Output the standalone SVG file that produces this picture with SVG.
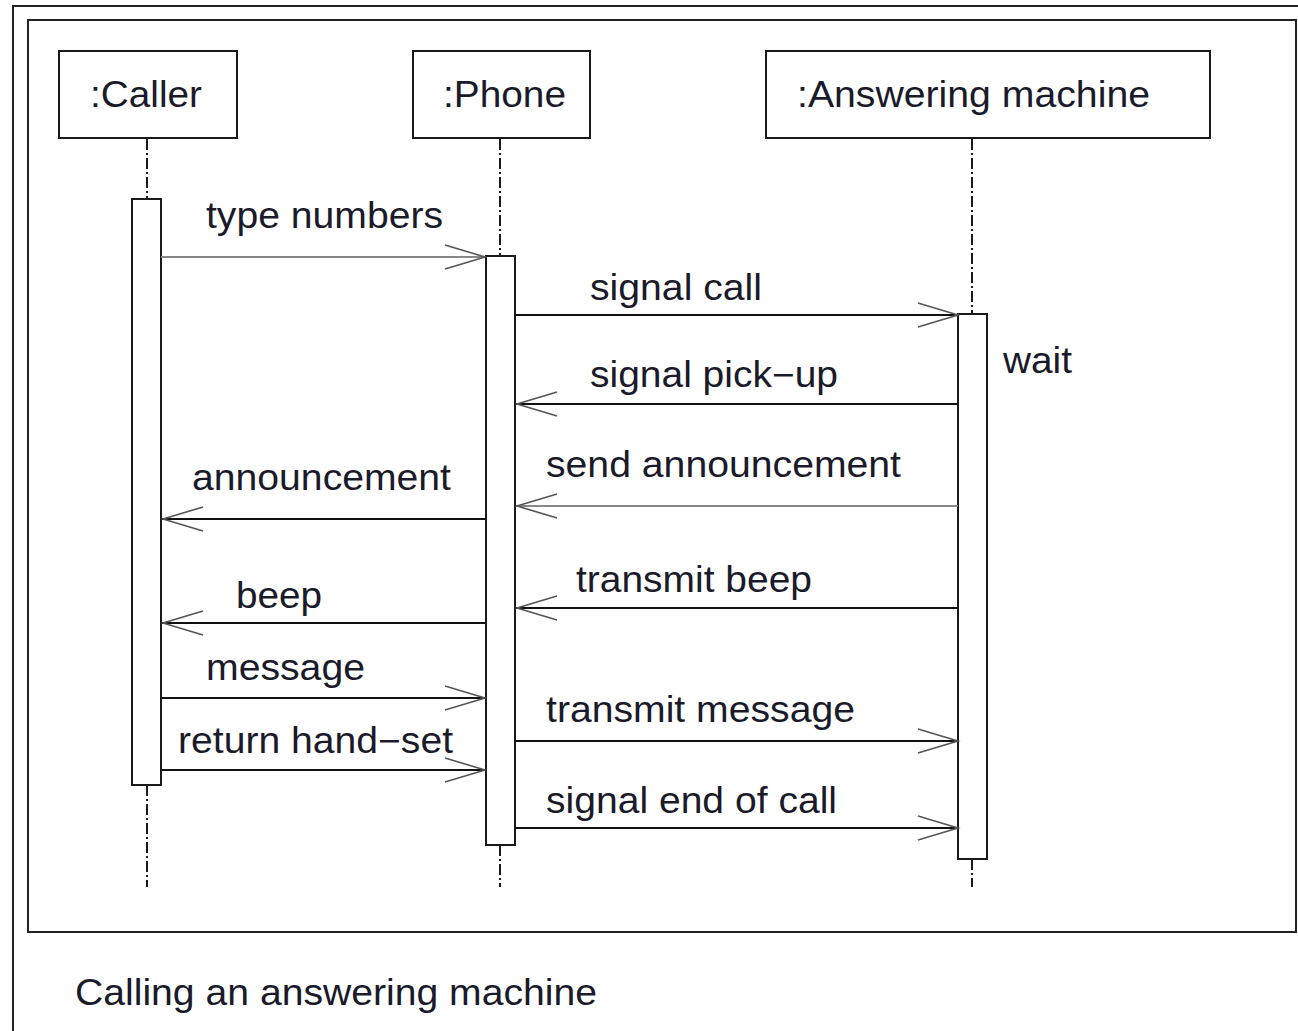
<svg xmlns="http://www.w3.org/2000/svg" width="1298" height="1031" viewBox="0 0 1298 1031">
<style>
.frame{fill:none;stroke:#222;stroke-width:2}
.box{fill:#fff;stroke:#1a1a1a;stroke-width:2}
.life{stroke:#1a1a1a;stroke-width:2;stroke-dasharray:11 3 2 3;fill:none}
.msg{stroke:#111;stroke-width:2;fill:none}
.msg.grey{stroke:#888}
.head{stroke:#555;stroke-width:1.6;fill:none}
text{font-family:"Liberation Sans",Arial,sans-serif;font-size:36px;fill:#1a1a2a}
</style>
<rect width="1298" height="1031" fill="#fff"/>
<path class="frame" d="M13,1031 V6 H1298"/>
<rect class="frame" x="28" y="20" width="1268" height="912"/>
<g id="lifelines">
<line class="life" x1="147" y1="139" x2="147" y2="199"/>
<line class="life" x1="147" y1="785" x2="147" y2="887"/>
<line class="life" x1="500" y1="139" x2="500" y2="256"/>
<line class="life" x1="500" y1="845" x2="500" y2="887"/>
<line class="life" x1="972" y1="139" x2="972" y2="314"/>
<line class="life" x1="972" y1="859" x2="972" y2="887"/>
</g>
<g id="caller">
<rect class="box" x="59" y="51" width="178" height="87"/>
<text x="90" y="107" textLength="112" lengthAdjust="spacingAndGlyphs">:Caller</text>
<rect class="box" x="132" y="199" width="29" height="586"/>
</g>
<g id="phone">
<rect class="box" x="413" y="51" width="177" height="87"/>
<text x="443" y="107" textLength="123" lengthAdjust="spacingAndGlyphs">:Phone</text>
<rect class="box" x="486" y="256" width="29" height="589"/>
</g>
<g id="answering-machine">
<rect class="box" x="766" y="51" width="444" height="87"/>
<text x="797" y="107" textLength="353" lengthAdjust="spacingAndGlyphs">:Answering machine</text>
<rect class="box" x="958" y="314" width="29" height="545"/>
<text x="1003" y="373" textLength="69" lengthAdjust="spacingAndGlyphs">wait</text>
</g>
<g id="connectors">
<line class="msg grey" x1="161" y1="257" x2="485" y2="257"/>
<path class="head" d="M445,245 L485,257 L445,269"/>
<line class="msg" x1="515" y1="315" x2="958" y2="315"/>
<path class="head" d="M918,303 L958,315 L918,327"/>
<line class="msg" x1="958" y1="404" x2="516" y2="404"/>
<path class="head" d="M557,392 L517,404 L557,416"/>
<line class="msg grey" x1="958" y1="506" x2="516" y2="506"/>
<path class="head" d="M557,494 L517,506 L557,518"/>
<line class="msg" x1="485" y1="519" x2="162" y2="519"/>
<path class="head" d="M203,507 L163,519 L203,531"/>
<line class="msg" x1="958" y1="608" x2="516" y2="608"/>
<path class="head" d="M557,596 L517,608 L557,620"/>
<line class="msg" x1="485" y1="623" x2="162" y2="623"/>
<path class="head" d="M203,611 L163,623 L203,635"/>
<line class="msg" x1="161" y1="698" x2="485" y2="698"/>
<path class="head" d="M445,686 L485,698 L445,710"/>
<line class="msg" x1="515" y1="741" x2="958" y2="741"/>
<path class="head" d="M918,729 L958,741 L918,753"/>
<line class="msg" x1="161" y1="770" x2="485" y2="770"/>
<path class="head" d="M445,758 L485,770 L445,782"/>
<line class="msg" x1="515" y1="828" x2="958" y2="828"/>
<path class="head" d="M918,816 L958,828 L918,840"/>
</g>
<g id="labels">
<text x="206" y="228" textLength="237" lengthAdjust="spacingAndGlyphs">type numbers</text>
<text x="590" y="300" textLength="172" lengthAdjust="spacingAndGlyphs">signal call</text>
<text x="590" y="387" textLength="248" lengthAdjust="spacingAndGlyphs">signal pick−up</text>
<text x="546" y="477" textLength="355" lengthAdjust="spacingAndGlyphs">send announcement</text>
<text x="192" y="490" textLength="259" lengthAdjust="spacingAndGlyphs">announcement</text>
<text x="576" y="592" textLength="236" lengthAdjust="spacingAndGlyphs">transmit beep</text>
<text x="236" y="608" textLength="86" lengthAdjust="spacingAndGlyphs">beep</text>
<text x="206" y="680" textLength="159" lengthAdjust="spacingAndGlyphs">message</text>
<text x="546" y="722" textLength="309" lengthAdjust="spacingAndGlyphs">transmit message</text>
<text x="178" y="753" textLength="275" lengthAdjust="spacingAndGlyphs">return hand−set</text>
<text x="546" y="813" textLength="291" lengthAdjust="spacingAndGlyphs">signal end of call</text>
</g>
<text id="caption" x="75" y="1005" textLength="522" lengthAdjust="spacingAndGlyphs">Calling an answering machine</text>
</svg>
